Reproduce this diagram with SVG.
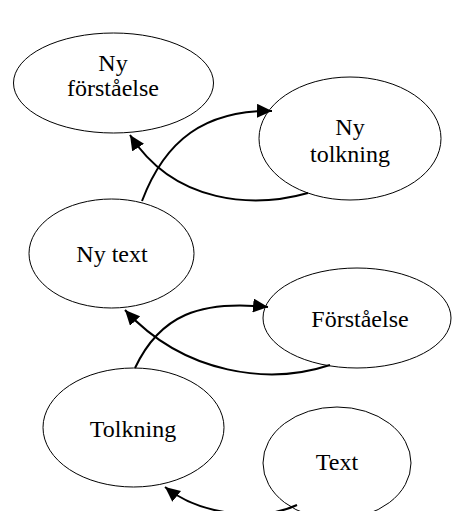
<svg xmlns="http://www.w3.org/2000/svg" width="452" height="511" viewBox="0 0 452 511">
<style>
.node ellipse{fill:#fff;stroke:#000;stroke-width:1}
.node text{font-family:"Liberation Serif","Times New Roman",serif;font-size:24px;fill:#000;text-anchor:middle}
.conn path{fill:none;stroke:#000;stroke-width:2}
</style>
<defs>
<marker id="ah" markerUnits="userSpaceOnUse" markerWidth="16" markerHeight="14" refX="15" refY="7" orient="auto">
<path d="M0,0 L15,7 L0,14 Z" fill="#000"/>
</marker>
</defs>
<g id="ny-forstaelse" class="node"><ellipse cx="113.5" cy="83" rx="100" ry="50"/><text x="113" y="71">Ny</text><text x="113" y="96">förståelse</text></g>
<g id="ny-tolkning" class="node"><ellipse cx="350" cy="138.5" rx="91" ry="61.5"/><text x="350" y="135">Ny</text><text x="350" y="162">tolkning</text></g>
<g id="ny-text" class="node"><ellipse cx="111.5" cy="253.5" rx="82.5" ry="54.5"/><text x="112" y="262">Ny text</text></g>
<g id="forstaelse" class="node"><ellipse cx="357" cy="318" rx="94" ry="50"/><text x="360" y="327">Förståelse</text></g>
<g id="tolkning" class="node"><ellipse cx="133.5" cy="427.5" rx="90.5" ry="59.5"/><text x="133" y="437">Tolkning</text></g>
<g id="text" class="node"><ellipse cx="337" cy="463" rx="74" ry="56"/><text x="337" y="470">Text</text></g>
<g id="connectors" class="conn">
<path d="M142,201 C165,140 205,110 272,111" marker-end="url(#ah)"/>
<path d="M308,193 C255,208 175,205 130,135" marker-end="url(#ah)"/>
<path d="M135,368 C160,315 200,300 268,307" marker-end="url(#ah)"/>
<path d="M330,365 C270,385 185,375 125,310" marker-end="url(#ah)"/>
<path d="M297,505 C260,522 200,515 165,487" marker-end="url(#ah)"/>
</g>
</svg>
